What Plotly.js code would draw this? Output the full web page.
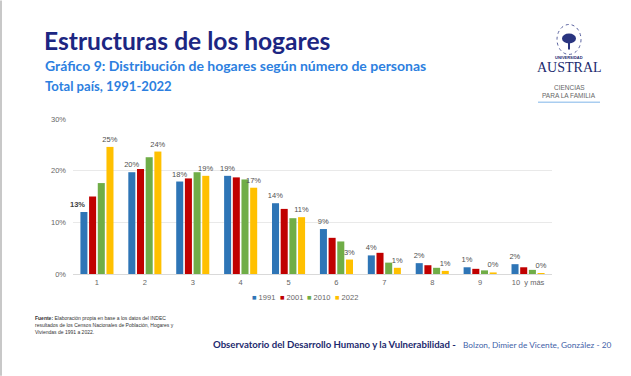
<!DOCTYPE html>
<html><head><meta charset="utf-8">
<script src="https://cdn.plot.ly/plotly-3.0.1.min.js"></script>
<style>html,body{margin:0;padding:0;background:#fff;overflow:hidden}</style>
</head><body><div id="chart" style="width:631px;height:376px"></div>
<script>
const categories = ['1','2','3','4','5','6','7','8','9','10  y más'];
const years = ['1991','2001','2010','2022'];
const colors = ['#2e75b6','#c00000','#70ad47','#ffc000'];
const v1991 = [12.0,19.7,17.9,19.0,13.7,8.7,3.6,2.1,1.3,1.9];
const v2001 = [15.0,20.3,18.5,18.7,12.6,7.0,4.1,1.7,1.0,1.3];
const v2010 = [17.6,22.6,19.7,18.3,10.8,6.3,2.2,1.2,0.7,0.8];
const v2022 = [24.6,23.7,19.0,16.7,11.0,2.8,1.2,0.6,0.3,0.2];
const labels1991 = ['','20%','18%','19%','14%','9%','4%','2%','1%','2%'];
const labels2022 = ['25%','24%','19%','17%','11%','3%','1%','1%','0%','0%'];
const series = [v1991,v2001,v2010,v2022];
const textBy = [labels1991,null,null,labels2022];
const traces = series.map((y,i)=>({
  type:'bar', name:years[i], x:categories, y:y,
  marker:{color:colors[i]},
  text:textBy[i]||undefined,
  textposition:textBy[i]?'outside':'none',
  constraintext:'none',
  outsidetextfont:{family:'Liberation Sans, Arial, sans-serif',size:7.5,color:'#505050'},
  cliponaxis:false, hoverinfo:'skip'
}));
const L=73,R=552,T=118.7,B=274;
const px=x=>(x-L)/(R-L), py=y=>(B-y)/(B-T);
const SANS='Liberation Sans, Arial, sans-serif', LATO='Lato, sans-serif';
const ann=(text,x,y,size,color,family,anchor)=>({xref:'paper',yref:'paper',x:px(x),y:py(y),xanchor:anchor||'left',yanchor:'middle',
  text:text,showarrow:false,font:{family:family||LATO,size:size,color:color}});
const legendAnn=years.map((yr,i)=>ann('<span style="color:'+colors[i]+'">■</span> '+yr,250+27.6*i,298,7.5,'#666666',SANS));
const firstLabel={xref:'x',yref:'y',x:categories.indexOf('1'),y:v1991[0],xanchor:'center',yanchor:'bottom',xshift:-19,yshift:1,
  text:'<b>13%</b>',showarrow:false,font:{family:SANS,size:7.5,color:'#404040'}};
const layout={
  width:631,height:376,paper_bgcolor:'#fff',plot_bgcolor:'#fff',
  margin:{l:L,r:631-R,t:T,b:376-B},
  font:{family:SANS,size:7.5,color:'#666666'},
  barmode:'group',bargap:0.275,bargroupgap:0.19,
  xaxis:{type:'category',range:[-0.5,categories.length-0.5],showgrid:false,showline:true,linecolor:'#d9d9d9',linewidth:1,ticks:'',ticklabelstandoff:1,tickfont:{size:7.5,color:'#666666'},automargin:false},
  yaxis:{range:[0,30],dtick:10,ticksuffix:'%',gridcolor:'#e9e9e9',gridwidth:1,zeroline:false,showline:false,ticklabelstandoff:6,tickfont:{size:7.5,color:'#666666'},automargin:false},
  showlegend:false,
  annotations:[
    firstLabel,
    ann('<b>Estructuras de los hogares</b>',42,40,24.6,'#1c2682'),
    ann('<b>Gráfico 9: Distribución de hogares según número de personas</b>',43,65,14,'#2d7fe0'),
    ann('<b>Total país, 1991-2022</b>',43,86,13.1,'#2d7fe0'),
    ann('<b>Fuente:</b> Elaboración propia en base a los datos del INDEC',33,318,5,'#333',SANS),
    ann('resultados de los Censos Nacionales de Población, Hogares y',33,325,5,'#333',SANS),
    ann('Viviendas de 1991 a 2022.',33,332,5,'#333',SANS),
    ann('<b>Observatorio del Desarrollo Humano y la Vulnerabilidad -</b>',211,345,9.6,'#1c2a6e'),
    ann('Bolzon, Dimier de Vicente, González - 20',461,345,8.3,'#3f5fa8'),
    ann('<b>UNIVERSIDAD</b>',569,57,4,'#1c2a6e',SANS,'center'),
    ann('AUSTRAL',569,67,14,'#1c2a6e','Liberation Serif, serif','center'),
    ann('CIENCIAS',569,87,6.5,'#666',SANS,'center'),
    ann('PARA LA FAMILIA',569,95,6.5,'#666',SANS,'center')
  ].concat(legendAnn),
  shapes:[
    {type:'rect',xref:'paper',yref:'paper',x0:px(0),x1:px(2),y0:py(376),y1:py(0),fillcolor:'#c8c8c8',line:{width:0}},
    {type:'line',xref:'paper',yref:'paper',x0:px(538),x1:px(600),y0:py(102),y1:py(102),line:{color:'#a9cdf0',width:1.5}},
    {type:'circle',xref:'paper',yref:'paper',x0:px(557),x1:px(581),y0:py(54),y1:py(24),fillcolor:'#fff',line:{color:'#5a63a0',width:1,dash:'dot'}},
    {type:'circle',xref:'paper',yref:'paper',x0:px(562),x1:px(576),y0:py(43),y1:py(33),fillcolor:'#2a3580',line:{width:0}},
    {type:'rect',xref:'paper',yref:'paper',x0:px(568),x1:px(570),y0:py(49),y1:py(42),fillcolor:'#2a3580',line:{width:0}}
  ]
};
Plotly.newPlot('chart',traces,layout,{displayModeBar:false,staticPlot:true});
</script></body></html>
